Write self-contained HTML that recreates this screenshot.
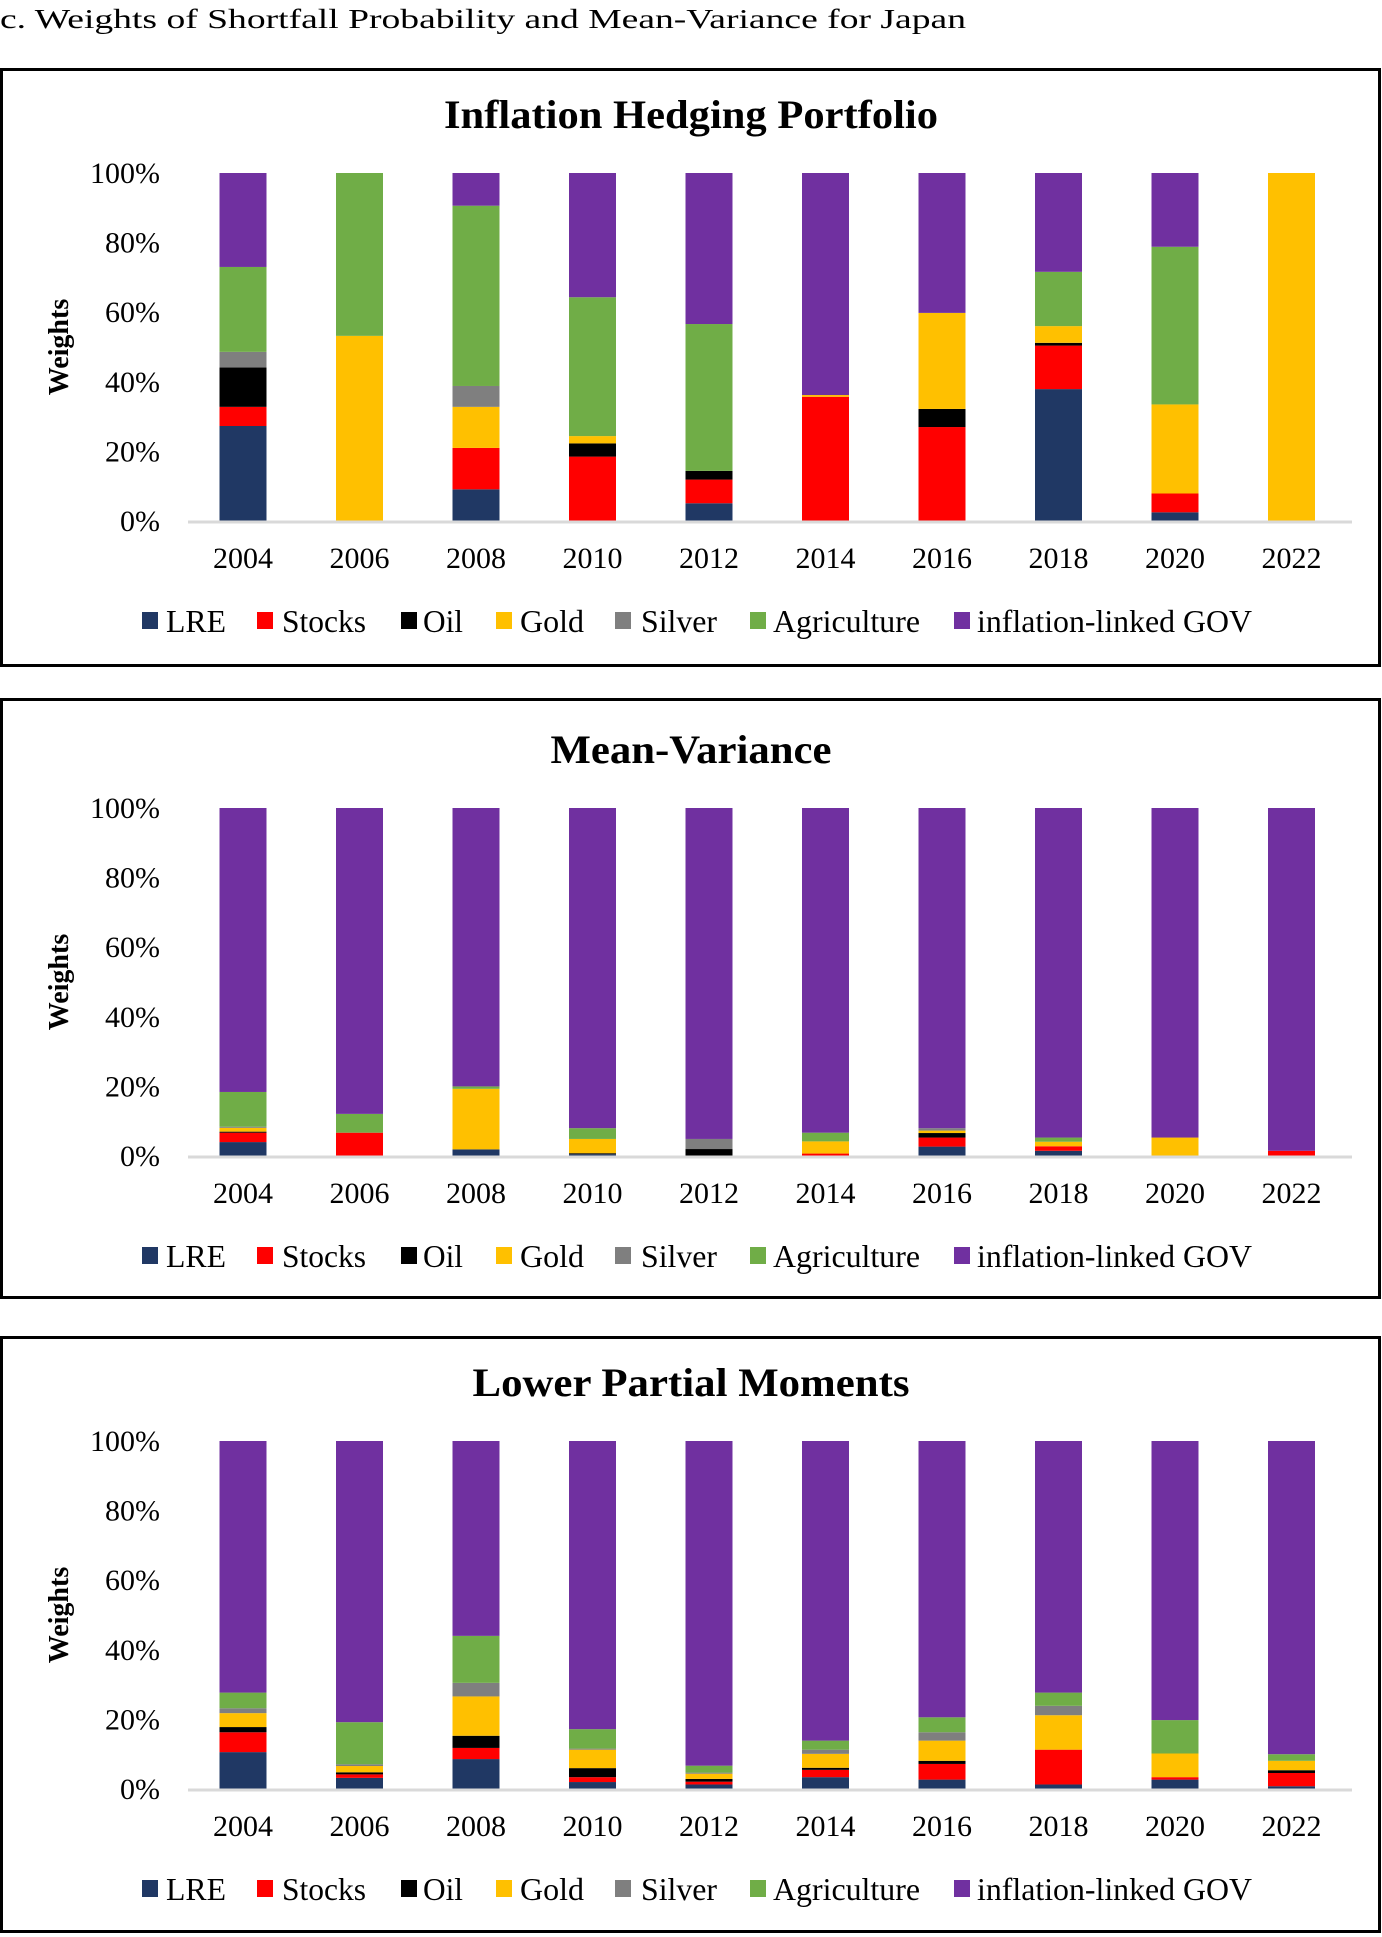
<!DOCTYPE html>
<html><head><meta charset="utf-8"><style>
html,body{margin:0;padding:0;background:#fff}
svg{display:block}
text{font-family:"Liberation Serif",serif;fill:#000}
</style></head><body>
<svg id="root" width="1382" height="1937" viewBox="0 0 1382 1937">
<text x="0" y="28" font-size="27" textLength="966" lengthAdjust="spacingAndGlyphs">c.   Weights  of  Shortfall  Probability  and  Mean-Variance  for  Japan</text>
</svg>
<script>
const years = ["2004","2006","2008","2010","2012","2014","2016","2018","2020","2022"];
const seriesNames = ["LRE","Stocks","Oil","Gold","Silver","Agriculture","inflation-linked GOV"];
const seriesColors = ["#203864","#FF0000","#000000","#FFC000","#7F7F7F","#70AD47","#7030A0"];
const yTicks = ["0%","20%","40%","60%","80%","100%"];
const yTickValues = [0,20,40,60,80,100];
const panelTitles = ["Inflation Hedging Portfolio","Mean-Variance","Lower Partial Moments"];
// values per series (percent), per year
const ihpLRE    = [27.3,0,9.1,0,5.1,0,0,37.9,2.5,0];
const ihpStocks = [5.5,0,11.9,18.5,6.8,35.7,27,12.5,5.4,0];
const ihpOil    = [11.3,0,0,3.8,2.5,0,5.2,0.8,0,0];
const ihpGold   = [0,53.2,11.8,2.1,0,0.5,27.6,4.8,25.6,100];
const ihpSilver = [4.5,0,6,0,0,0,0,0,0,0];
const ihpAgri   = [24.4,46.8,51.8,39.9,42.2,0,0,15.6,45.3,0];
const ihpGov    = [27,0,9.4,35.7,43.4,63.8,40.2,28.4,21.2,0];
const mvLRE    = [4,0,1.9,0.5,0,0,2.7,1.5,0,0];
const mvStocks = [2.7,6.7,0,0,0,0.7,2.6,1.3,0,1.5];
const mvOil    = [0.3,0,0,0.3,2,0,1.3,0,0,0];
const mvGold   = [1.1,0,17.4,4.1,0,3.5,0.7,1.3,5.3,0];
const mvSilver = [0.3,0,0,0,2.9,0,0.7,0,0,0];
const mvAgri   = [10,5.4,0.7,3.1,0,2.5,0,1.2,0,0];
const mvGov    = [81.6,87.9,80,92,95.1,93.3,92,94.7,94.7,98.5];
const lpmLRE    = [10.6,3.2,8.6,2,1.3,3.4,2.7,1.3,2.7,0.8];
const lpmStocks = [5.7,1,3.2,1.4,0.8,2.1,4.5,10,0.7,3.8];
const lpmOil    = [1.5,0.6,3.5,2.6,0.8,0.6,0.9,0,0,0.8];
const lpmGold   = [4,1.8,11.3,5.3,1.5,4,5.8,9.9,6.8,2.7];
const lpmSilver = [1.4,0.5,3.9,0.3,0.3,1.2,2.4,2.7,0,0];
const lpmAgri   = [4.5,12.1,13.5,5.6,2,2.6,4.3,3.8,9.6,1.9];
const lpmGov    = [72.3,80.8,56,82.8,93.3,86.1,79.4,72.3,80.2,90];

const panels = [
 {series:[ihpLRE,ihpStocks,ihpOil,ihpGold,ihpSilver,ihpAgri,ihpGov], top:68, bottom:667, off:0, tw:494, key:"ihp"},
 {series:[mvLRE,mvStocks,mvOil,mvGold,mvSilver,mvAgri,mvGov], top:698, bottom:1299, off:635, tw:281, key:"mv"},
 {series:[lpmLRE,lpmStocks,lpmOil,lpmGold,lpmSilver,lpmAgri,lpmGov], top:1336, bottom:1933, off:1268, tw:437, key:"lpm"}
];
const NS="http://www.w3.org/2000/svg";
const root=document.getElementById('root');
function mk(tag,attrs,parent){const e=document.createElementNS(NS,tag);for(const k in attrs)e.setAttribute(k,attrs[k]);(parent||root).appendChild(e);return e;}
const legendX=[[142,166,60],[257,282,84],[401,423,40],[496,520,64],[615,641,76],[750,773,147],[954,977,275]];
panels.forEach((p,pi)=>{
  const off=p.off;
  const g=mk('g',{});
  
  
  const box=mk('rect',{x:1.5,y:p.top+1.5,width:1378,height:p.bottom-p.top-3,fill:'none',stroke:'#000','stroke-width':3},g);
  
  
  const y0=521+off, y100=173+off;
  const yScale=v=>y0-(v/100)*(y0-y100);
  const xScale=i=>243+i*116.5;
  const t=mk('text',{x:691-p.tw/2,y:128+off,'font-size':40,'font-weight':'bold',textLength:p.tw,lengthAdjust:'spacingAndGlyphs'},g);
  t.textContent=panelTitles[pi];
  
  
  const yl=mk('text',{x:0,y:0,'font-size':28,'font-weight':'bold','text-anchor':'middle',transform:`translate(68,${347+off}) rotate(-90)`},g);
  yl.textContent='Weights';
  
  
  yTickValues.forEach((v,i)=>{
    const tt=mk('text',{x:160,y:yScale(v)+10,'font-size':30,'text-anchor':'end'},g);
    tt.textContent=yTicks[i];
    
    
  });
  years.forEach((yr,i)=>{
    let acc=0;
    p.series.forEach((s,si)=>{
      const v=s[i]; if(v<=0) return;
      const r=mk('rect',{x:xScale(i)-23.5,y:yScale(acc+v),width:47,height:yScale(acc)-yScale(acc+v),fill:seriesColors[si]},g);
      
      
      acc+=v;
    });
    const xt=mk('text',{x:xScale(i),y:568+off,'font-size':30,'text-anchor':'middle'},g);
    xt.textContent=yr;
    
    
  });
  const ax=mk('line',{x1:188,x2:1352,y1:y0+1,y2:y0+1,stroke:'#d9d9d9','stroke-width':3},g);
  
  
  seriesNames.forEach((n,si)=>{
    const L=legendX[si];
    const sq=mk('rect',{x:L[0],y:612+off,width:16,height:17,fill:seriesColors[si]},g);
    
    
    const lt=mk('text',{x:L[1],y:632+off,'font-size':32,textLength:L[2],lengthAdjust:'spacingAndGlyphs'},g);
    lt.textContent=n;
    
    
  });
});
</script>
</body></html>
